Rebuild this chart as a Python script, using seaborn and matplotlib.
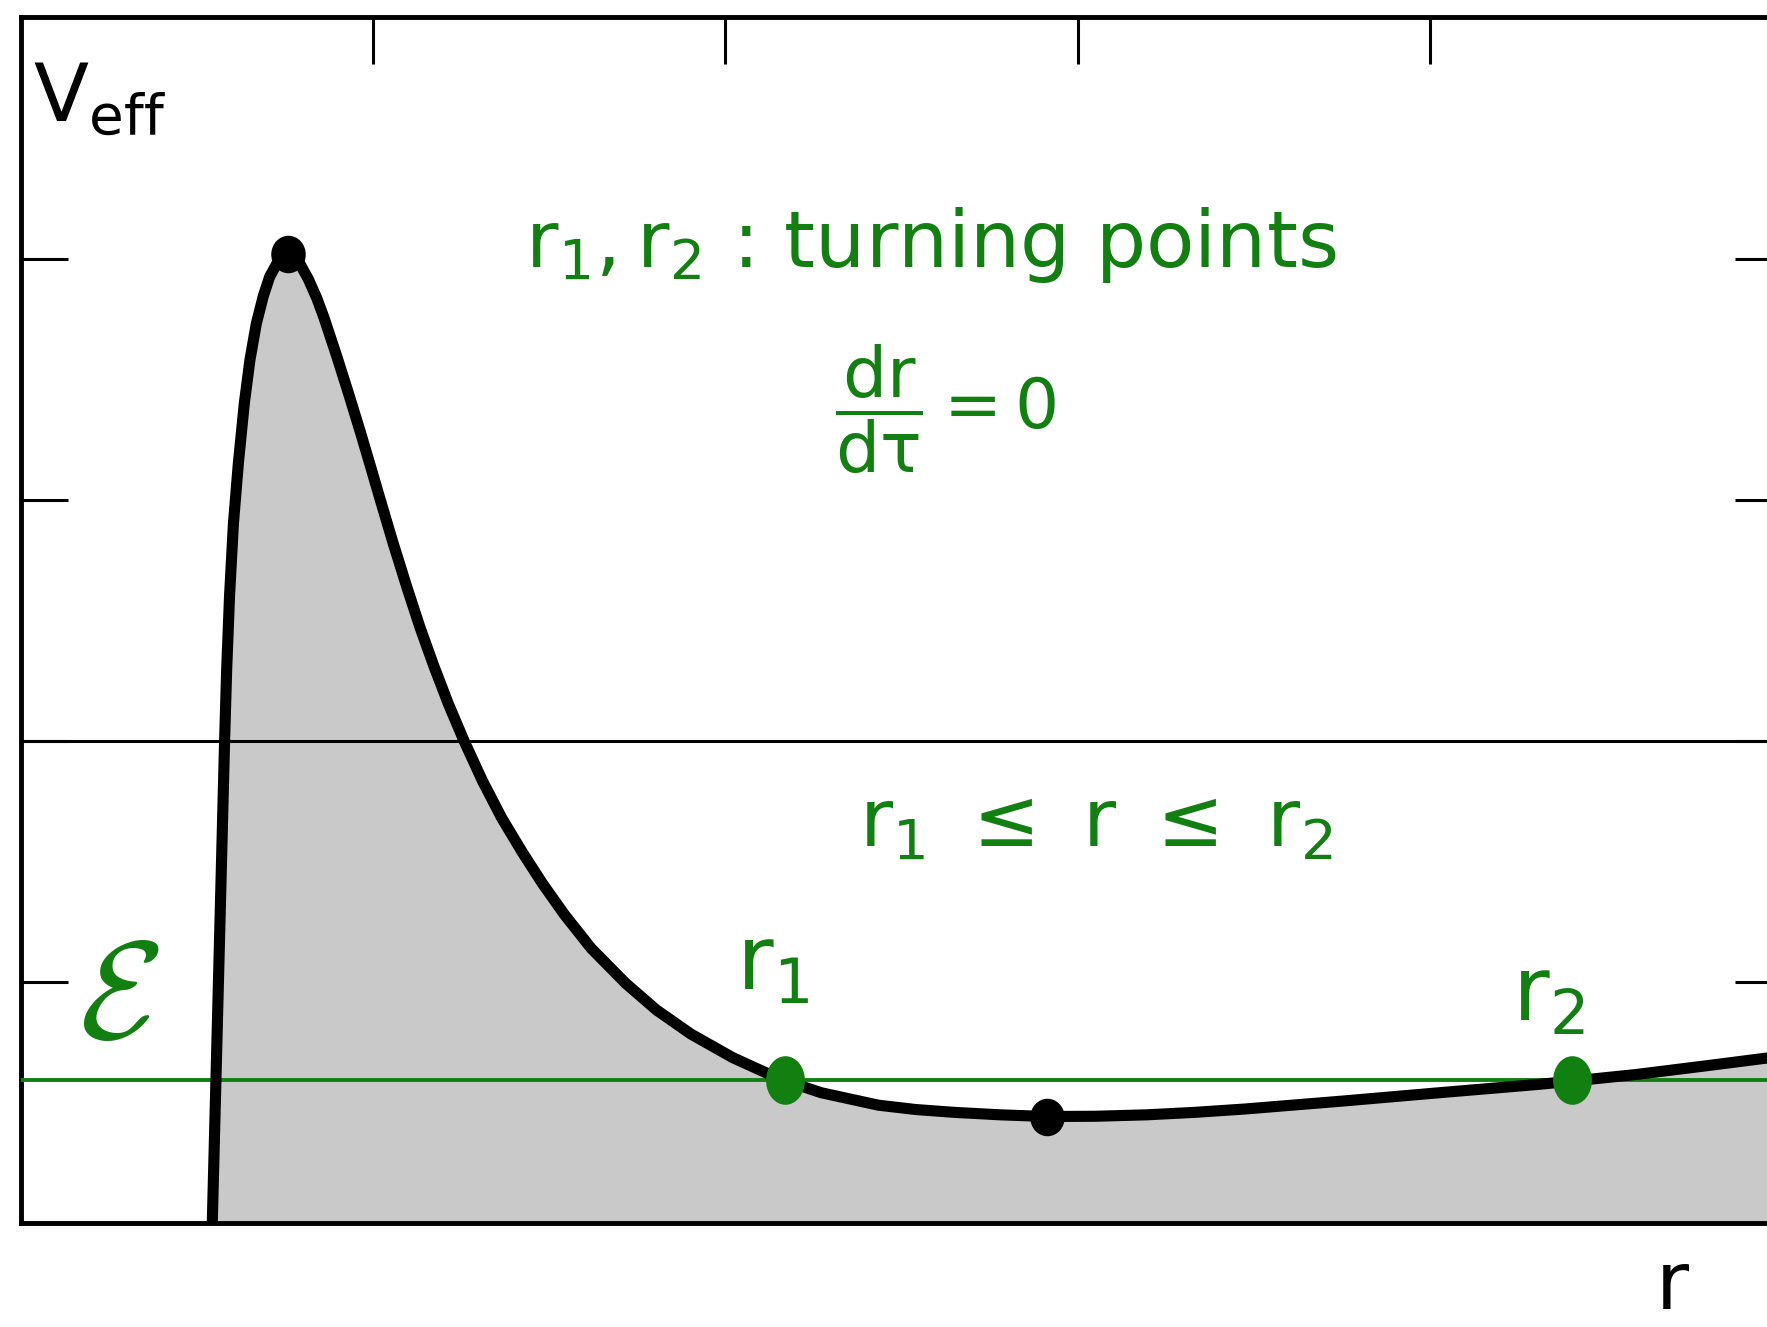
import matplotlib.pyplot as plt
import seaborn as sns
from matplotlib.markers import MarkerStyle
from matplotlib.transforms import Affine2D

sns.set_style("white")
plt.rcParams['font.family'] = ['DejaVu Sans']
plt.rcParams['mathtext.default'] = 'regular'

# effective potential
r_vals = [0.543, 0.550, 0.557, 0.564, 0.571, 0.578, 0.584, 0.592, 0.603, 0.617,
          0.634, 0.650, 0.668, 0.688, 0.706, 0.726, 0.742, 0.759, 0.776, 0.792,
          0.816, 0.840, 0.860, 0.896, 0.929, 0.963, 0.994, 1.024, 1.057, 1.095,
          1.133, 1.171, 1.213, 1.258, 1.310, 1.365, 1.424, 1.480, 1.543, 1.619,
          1.717, 1.804, 1.902, 2.021, 2.152, 2.271, 2.434, 2.540, 2.652, 2.780,
          2.912, 3.050, 3.196, 3.330, 3.474, 3.752, 4.030, 4.307, 4.405, 4.585,
          4.794, 4.960, 5.000]
v_vals = [-2.000, -1.600, -1.200, -0.800, -0.400, 0.000, 0.300, 0.600, 0.900, 1.150,
          1.400, 1.580, 1.730, 1.845, 1.925, 1.978, 2.000, 2.010, 2.000, 1.978,
          1.914, 1.835, 1.756, 1.597, 1.445, 1.283, 1.130, 0.980, 0.818, 0.640,
          0.470, 0.315, 0.155, 0.000, -0.165, -0.320, -0.463, -0.590, -0.720, -0.860,
          -1.005, -1.115, -1.215, -1.313, -1.400, -1.458, -1.510, -1.528, -1.540, -1.550,
          -1.557, -1.556, -1.550, -1.540, -1.526, -1.493, -1.458, -1.424, -1.410, -1.383,
          -1.345, -1.314, -1.306]

energy = -1.407
r_turn = [2.170, 4.405]
r_extrema = [0.759, 2.912]
v_extrema = [2.020, -1.557]
x_ticks = [1, 2, 3, 4]
y_ticks = [-1, 0, 1, 2]

green = '#118011'

fig = plt.figure(figsize=(17.67, 13.27), dpi=100)
ax = fig.add_axes([0.0119, 0.0781, 0.9966, 0.9088])

ax.fill_between(r_vals, v_vals, -2, color='#c9c9c9', lw=0, zorder=1)
ax.axhline(0, color='black', lw=2.2, zorder=2)
ax.axhline(energy, color=green, lw=2.8, zorder=3)
sns.lineplot(x=r_vals, y=v_vals, sort=False, estimator=None, color='black',
             lw=8, ax=ax, zorder=4)
ax.lines[-1].set_solid_joinstyle('round')
dot = MarkerStyle('o', transform=Affine2D().scale(0.92, 1.0))
ax.plot(r_extrema, v_extrema, ls='none', marker=dot, color='black', ms=27, mew=0, zorder=5)
ell = MarkerStyle('o', transform=Affine2D().scale(0.8, 1.0))
ax.plot(r_turn, [energy] * 2, ls='none', marker=ell, color=green, ms=35, mew=0, zorder=6)

ax.set_xlim(0, 5)
ax.set_ylim(-2, 3)
ax.set_xticks(x_ticks)
ax.set_yticks(y_ticks)
ax.set_xlabel('')
ax.set_ylabel('')
ax.tick_params(direction='in', length=34, width=2.2, color='black',
               top=True, right=True, bottom=True, left=True,
               labelbottom=False, labelleft=False)
for sp in ax.spines.values():
    sp.set_color('black')
    sp.set_linewidth(3.5)

ax.text(0.224, 2.660, r'$V_{eff}$', fontsize=58, color='black', ha='center', va='center')
ax.text(2.584, 2.057, r'$r_1, r_2$ : turning points', fontsize=57, color=green,
        ha='center', va='center')
ax.text(2.626, 1.375, r'$\dfrac{dr}{d\tau} = 0$', fontsize=50, color=green,
        ha='center', va='center')
ax.text(3.052, -0.346, r'$r_1\ \leq\ r\ \leq\ r_2$', fontsize=58, color=green,
        ha='center', va='center')
ax.text(2.135, -0.927, r'$r_1$', fontsize=64, color=green, ha='center', va='center')
ax.text(4.338, -1.056, r'$r_2$', fontsize=64, color=green, ha='center', va='center')
ax.text(0.280, -1.070, r'$\mathcal{E}$', fontsize=100, color=green,
        ha='center', va='center', math_fontfamily='cm')
ax.text(4.688, -2.353, 'r', fontsize=58, color='black', ha='center', va='baseline',
        clip_on=False)

fig.savefig('out.png', dpi=100)
